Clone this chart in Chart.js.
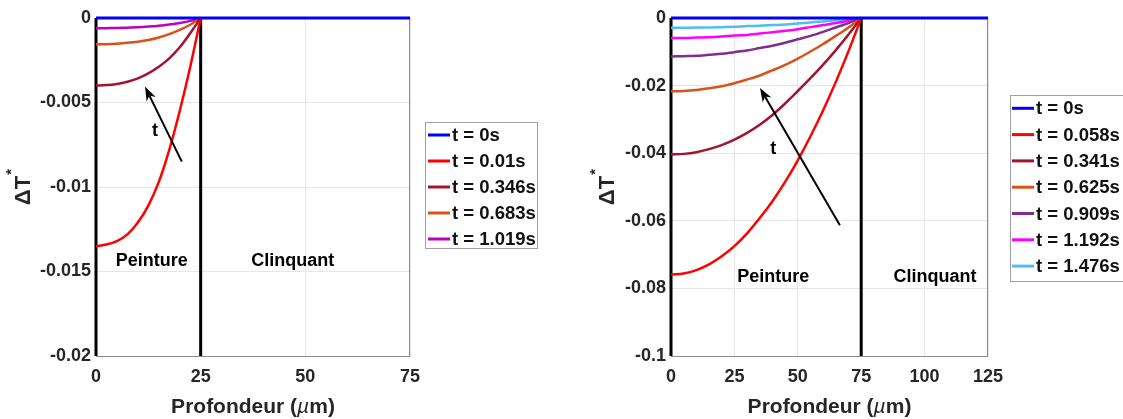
<!DOCTYPE html>
<html>
<head>
<meta charset="utf-8">
<script src="https://cdn.jsdelivr.net/npm/chart.js@4.4.1/dist/chart.umd.min.js"></script>
<style>
  html, body { margin: 0; padding: 0; background: #fff; }
  #wrap { position: relative; width: 1123px; height: 419px; overflow: hidden; }
  canvas { position: absolute; top: 0; }
</style>
</head>
<body>
<div id="wrap">
  <canvas id="left" width="560" height="419" style="left:0px"></canvas>
  <canvas id="right" width="563" height="419" style="left:560px"></canvas>
</div>
<script>
// ---- left plot: paint layer 25 um ----
const depthLeft = [0, 2.5, 5, 7.5, 10, 12.5, 15, 17.5, 20, 22.5, 25];
const baseDepthLeft = [0, 75];
const t0Left = [0, 0];
const t001Left = [-0.0135, -0.0134, -0.0132, -0.0128, -0.0121, -0.0111, -0.0097, -0.0078, -0.0055, -0.0029, 0];
const t0346Left = [-0.0040, -0.00397, -0.0039, -0.00377, -0.00357, -0.00328, -0.00289, -0.00239, -0.00173, -0.0009, 0];
const t0683Left = [-0.00156, -0.00155, -0.00152, -0.00147, -0.0014, -0.0013, -0.00115, -0.00095, -0.0007, -0.0004, 0];
const t1019Left = [-0.00061, -0.0006, -0.00059, -0.00057, -0.00055, -0.00051, -0.00046, -0.00039, -0.0003, -0.00017, 0];
const labelsLeft = ['t = 0s', 't = 0.01s', 't = 0.346s', 't = 0.683s', 't = 1.019s'];
const xTicksLeft = [0, 25, 50, 75];
const yTicksLeft = [0, -0.005, -0.01, -0.015, -0.02];
const yTickLabelsLeft = ['0', '-0.005', '-0.01', '-0.015', '-0.02'];

// ---- right plot: paint layer 75 um ----
const depthRight = [0, 5, 10, 15, 20, 25, 30, 35, 40, 45, 50, 55, 60, 65, 70, 75];
const baseDepthRight = [0, 125];
const t0Right = [0, 0];
const t0058Right = [-0.0759, -0.0756, -0.0746, -0.0729, -0.0705, -0.0675, -0.0637, -0.0592, -0.0542, -0.0485, -0.0421, -0.0350, -0.0273, -0.0189, -0.0098, 0];
const t0341Right = [-0.0404, -0.0402, -0.0397, -0.0388, -0.0376, -0.0360, -0.0340, -0.0316, -0.0287, -0.0253, -0.0216, -0.0178, -0.0138, -0.0095, -0.0049, 0];
const t0625Right = [-0.0217, -0.0216, -0.0213, -0.0208, -0.0202, -0.0193, -0.0182, -0.0170, -0.0155, -0.0139, -0.0120, -0.0099, -0.0077, -0.0053, -0.0028, 0];
const t0909Right = [-0.0114, -0.0113, -0.0112, -0.0109, -0.0106, -0.0101, -0.0096, -0.0089, -0.0082, -0.0073, -0.0063, -0.0053, -0.0041, -0.0028, -0.0015, 0];
const t1192Right = [-0.0059, -0.0059, -0.0058, -0.0057, -0.0055, -0.0052, -0.0050, -0.0046, -0.0042, -0.0038, -0.0033, -0.0027, -0.0021, -0.0015, -0.0008, 0];
const t1476Right = [-0.0029, -0.0029, -0.0028, -0.0028, -0.0027, -0.0026, -0.0024, -0.0023, -0.0021, -0.0019, -0.0016, -0.0013, -0.0010, -0.0007, -0.0004, 0];
const labelsRight = ['t = 0s', 't = 0.058s', 't = 0.341s', 't = 0.625s', 't = 0.909s', 't = 1.192s', 't = 1.476s'];
const xTicksRight = [0, 25, 50, 75, 100, 125];
const yTicksRight = [0, -0.02, -0.04, -0.06, -0.08, -0.1];
const yTickLabelsRight = ['0', '-0.02', '-0.04', '-0.06', '-0.08', '-0.1'];

const FONT = "'Liberation Sans', Arial, sans-serif";
const TXT = '#262626';

function pts(xs, ys) {
  return xs.map((x, i) => ({ x: x, y: ys[i] }));
}

function drawArrow(ctx, x0, y0, x1, y1) {
  const a = Math.atan2(y1 - y0, x1 - x0);
  const L = 14, W = 5;
  const c = Math.cos(a), s = Math.sin(a);
  ctx.beginPath();
  ctx.moveTo(x0, y0);
  ctx.lineTo(x1 - L * 0.7 * c, y1 - L * 0.7 * s);
  ctx.stroke();
  ctx.beginPath();
  ctx.moveTo(x1, y1);
  ctx.lineTo(x1 - L * c + W * s, y1 - L * s - W * c);
  ctx.lineTo(x1 - L * 0.7 * c, y1 - L * 0.7 * s);
  ctx.lineTo(x1 - L * c - W * s, y1 - L * s + W * c);
  ctx.closePath();
  ctx.fill();
}

function makeChart(id, spec) {
  const datasets = spec.series.map((s, i) => ({
    label: spec.labels[i],
    data: pts(s[0], s[1]),
    borderColor: spec.colors[i],
    backgroundColor: spec.colors[i],
    borderWidth: i === 0 ? 3 : 2.5,
    pointRadius: 0,
    cubicInterpolationMode: 'monotone',
    fill: false,
    clip: false
  }));
  // black vertical lines: left edge and paint / substrate interface
  [0, spec.interfaceX].forEach(xv => datasets.push({
    label: '',
    data: pts([xv, xv], [spec.yTicks[0], spec.yTicks[spec.yTicks.length - 1]]),
    borderColor: '#000',
    borderWidth: 3,
    pointRadius: 0,
    tension: 0,
    clip: false
  }));

  const deco = {
    id: 'deco',
    beforeDatasetsDraw(chart) {
      const a = chart.chartArea, ctx = chart.ctx;
      ctx.save();
      ctx.strokeStyle = '#8c8c8c';
      ctx.lineWidth = 1;
      ctx.strokeRect(Math.round(a.left) + 0.5, Math.round(a.top) + 0.5,
        Math.round(a.right - a.left) - 1, Math.round(a.bottom - a.top));
      ctx.restore();
    },
    afterDraw(chart) {
      const ctx = chart.ctx, xs = chart.scales.x, ys = chart.scales.y, a = chart.chartArea;
      const px = v => xs.getPixelForValue(v), py = v => ys.getPixelForValue(v);
      ctx.save();
      // arrow + labels
      ctx.strokeStyle = '#000';
      ctx.fillStyle = '#000';
      ctx.lineWidth = 2;
      drawArrow(ctx, px(spec.arrow[0]), py(spec.arrow[1]), px(spec.arrow[2]), py(spec.arrow[3]));
      ctx.font = 'bold 18px ' + FONT;
      ctx.textAlign = 'center';
      ctx.textBaseline = 'middle';
      ctx.fillText('t', px(spec.tLabel[0]), py(spec.tLabel[1]));
      ctx.fillText('Peinture', px(spec.peinture[0]), py(spec.peinture[1]));
      ctx.fillText('Clinquant', px(spec.clinquant[0]), py(spec.clinquant[1]));

      // y title  ΔT*
      ctx.save();
      ctx.translate(spec.yTitle[0], spec.yTitle[1]);
      ctx.rotate(-Math.PI / 2);
      ctx.fillStyle = TXT;
      ctx.font = 'bold 22px ' + FONT;
      const w = ctx.measureText('\u0394T').width;
      ctx.fillText('\u0394T', 0, 0);
      ctx.font = 'bold 15px ' + FONT;
      ctx.fillText('*', w / 2 + 4, -12);
      ctx.restore();

      // x title
      ctx.fillStyle = TXT;
      ctx.textAlign = 'left';
      const p1 = 'Profondeur (', p2 = '\u00b5', p3 = 'm)';
      ctx.font = 'bold 21px ' + FONT;
      const w1 = ctx.measureText(p1).width, w3 = ctx.measureText(p3).width;
      ctx.font = 'italic 21px ' + FONT;
      const w2 = ctx.measureText(p2).width;
      let x = (a.left + a.right) / 2 - (w1 + w2 + w3) / 2;
      const ty = 407;
      ctx.font = 'bold 21px ' + FONT;
      ctx.fillText(p1, x, ty);
      ctx.font = 'italic 21px ' + FONT;
      ctx.fillText(p2, x + w1, ty);
      ctx.font = 'bold 21px ' + FONT;
      ctx.fillText(p3, x + w1 + w2, ty);

      // legend box
      const L = spec.legend;
      ctx.fillStyle = '#fff';
      ctx.fillRect(L.x, L.y, L.w, L.h);
      ctx.strokeStyle = '#a0a0a0';
      ctx.lineWidth = 1;
      ctx.strokeRect(L.x + 0.5, L.y + 0.5, L.w, L.h);
      ctx.font = 'bold 18.5px ' + FONT;
      ctx.textBaseline = 'middle';
      spec.labels.forEach((lab, i) => {
        const yy = L.row0 + i * L.rowH;
        ctx.strokeStyle = spec.colors[i];
        ctx.lineWidth = 3;
        ctx.beginPath();
        ctx.moveTo(L.line0, yy);
        ctx.lineTo(L.line1, yy);
        ctx.stroke();
        ctx.fillStyle = '#111';
        ctx.fillText(lab, L.textX, yy + 1);
      });
      ctx.restore();
    }
  };

  const tickFont = { family: FONT, size: 18, weight: 'bold' };
  return new Chart(document.getElementById(id), {
    type: 'line',
    data: { datasets: datasets },
    options: {
      responsive: false,
      animation: false,
      events: [],
      layout: { padding: { top: 18, right: spec.padRight, left: 0, bottom: 0 } },
      plugins: { legend: { display: false }, tooltip: { enabled: false } },
      scales: {
        x: {
          type: 'linear',
          min: spec.xTicks[0],
          max: spec.xTicks[spec.xTicks.length - 1],
          afterBuildTicks: s => { s.ticks = spec.xTicks.map(v => ({ value: v })); },
          afterFit: s => { s.height = 63; },
          ticks: { font: tickFont, color: TXT, padding: 10, maxRotation: 0, callback: v => String(v) },
          grid: { color: '#e6e6e6', drawTicks: false },
          border: { display: false }
        },
        y: {
          type: 'linear',
          min: spec.yTicks[spec.yTicks.length - 1],
          max: spec.yTicks[0],
          afterBuildTicks: s => { s.ticks = spec.yTicks.map(v => ({ value: v })); },
          afterFit: s => { s.width = spec.yAxisW; },
          ticks: {
            font: tickFont, color: TXT, padding: 5,
            callback: v => spec.yTickLabels[spec.yTicks.findIndex(t => Math.abs(t - v) < 1e-9)]
          },
          grid: { color: '#e6e6e6', drawTicks: false },
          border: { display: false }
        }
      }
    },
    plugins: [deco]
  });
}

makeChart('left', {
  series: [
    [baseDepthLeft, t0Left], [depthLeft, t001Left], [depthLeft, t0346Left],
    [depthLeft, t0683Left], [depthLeft, t1019Left]
  ],
  labels: labelsLeft,
  colors: ['#0000ff', '#ff0000', '#a2142f', '#d95319', '#bf00bf'],
  interfaceX: 25,
  xTicks: xTicksLeft,
  yTicks: yTicksLeft,
  yTickLabels: yTickLabelsLeft,
  yAxisW: 96,
  padRight: 150,
  yTitle: [23.7, 190.5],
  arrow: [20.5, -0.0085, 11.7, -0.00406],
  tLabel: [14.1, -0.0067],
  peinture: [13.3, -0.0144],
  clinquant: [47, -0.0144],
  legend: { x: 425, y: 122, w: 112, h: 126, row0: 135, rowH: 26, line0: 428, line1: 450, textX: 452 }
});

makeChart('right', {
  series: [
    [baseDepthRight, t0Right], [depthRight, t0058Right], [depthRight, t0341Right],
    [depthRight, t0625Right], [depthRight, t0909Right], [depthRight, t1192Right],
    [depthRight, t1476Right]
  ],
  labels: labelsRight,
  colors: ['#0000ff', '#ff0000', '#a2142f', '#d95319', '#7e2f8e', '#ff00ff', '#4dbeee'],
  interfaceX: 75,
  xTicks: xTicksRight,
  yTicks: yTicksRight,
  yTickLabels: yTickLabelsRight,
  yAxisW: 111,
  padRight: 135,
  yTitle: [48, 190.5],
  arrow: [66.6, -0.0613, 35.1, -0.0207],
  tLabel: [40.3, -0.0387],
  peinture: [40.3, -0.0765],
  clinquant: [104.1, -0.0765],
  legend: { x: 450, y: 95, w: 140, h: 186, row0: 108.3, rowH: 26.3, line0: 452, line1: 474, textX: 476 }
});
</script>
</body>
</html>
